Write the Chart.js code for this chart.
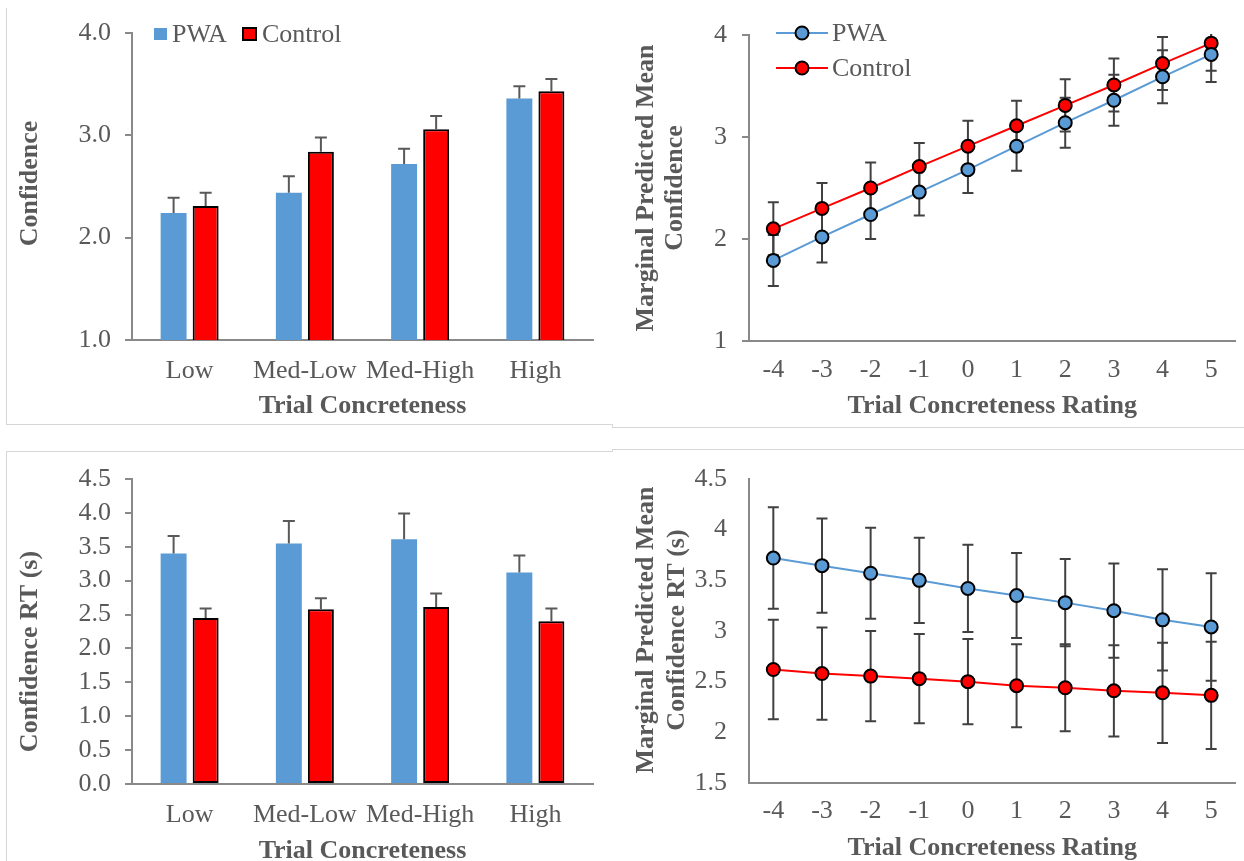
<!DOCTYPE html>
<html>
<head>
<meta charset="utf-8">
<script src="https://cdn.jsdelivr.net/npm/chart.js@4.4.1/dist/chart.umd.min.js"></script>
<style>
  html, body { margin: 0; padding: 0; background: #fff; overflow: hidden; }
  body { width: 1244px; height: 861px; position: relative; }
  canvas { position: absolute; }
  .rule { position: absolute; background: #d6d6d6; }
</style>
</head>
<body>
<!-- panel frames -->
<div class="rule" style="left:6px;top:8px;width:1px;height:417px"></div>
<div class="rule" style="left:6px;top:424px;width:606px;height:1px"></div>
<div class="rule" style="left:612px;top:424px;width:1px;height:4px"></div>
<div class="rule" style="left:612px;top:427px;width:632px;height:1px"></div>
<div class="rule" style="left:6px;top:451px;width:606px;height:1px"></div>
<div class="rule" style="left:6px;top:451px;width:1px;height:410px"></div>
<div class="rule" style="left:612px;top:449px;width:1px;height:3px"></div>
<div class="rule" style="left:612px;top:449px;width:632px;height:1px"></div>

<canvas id="confBars" width="612" height="426" style="left:0;top:0"></canvas>
<canvas id="confLines" width="632" height="428" style="left:612px;top:0"></canvas>
<canvas id="rtBars" width="612" height="440" style="left:0;top:440px"></canvas>
<canvas id="rtLines" width="632" height="440" style="left:612px;top:440px"></canvas>

<script>
// categories
const levels = ['Low', 'Med-Low', 'Med-High', 'High'];
const ratings = ['-4', '-3', '-2', '-1', '0', '1', '2', '3', '4', '5'];

// confidence by concreteness level
const confPwa = [2.24, 2.44, 2.72, 3.36];
const confPwaErr = [0.15, 0.16, 0.15, 0.12];
const confCtl = [2.31, 2.84, 3.06, 3.43];
const confCtlErr = [0.13, 0.14, 0.13, 0.12];

// confidence RT by concreteness level
const rtPwa = [3.40, 3.55, 3.61, 3.12];
const rtPwaErr = [0.26, 0.33, 0.38, 0.25];
const rtCtl = [2.45, 2.58, 2.61, 2.40];
const rtCtlErr = [0.14, 0.16, 0.20, 0.19];

// marginal predicted confidence by rating
const predConfPwa = [1.79, 2.02, 2.24, 2.46, 2.68, 2.91, 3.14, 3.36, 3.59, 3.81];
const predConfPwaErr = [0.25, 0.25, 0.24, 0.23, 0.23, 0.24, 0.245, 0.25, 0.26, 0.27];
const predConfCtl = [2.10, 2.30, 2.50, 2.71, 2.91, 3.11, 3.31, 3.51, 3.72, 3.92];
const predConfCtlErr = [0.26, 0.25, 0.25, 0.23, 0.25, 0.245, 0.255, 0.26, 0.26, 0.27];

// marginal predicted confidence RT by rating
const predRtPwa = [3.72, 3.645, 3.57, 3.50, 3.42, 3.35, 3.28, 3.20, 3.11, 3.04];
const predRtPwaErr = [0.50, 0.465, 0.45, 0.42, 0.43, 0.42, 0.43, 0.465, 0.50, 0.53];
const predRtCtl = [2.62, 2.58, 2.555, 2.53, 2.50, 2.46, 2.44, 2.41, 2.39, 2.365];
const predRtCtlErr = [0.49, 0.455, 0.445, 0.44, 0.42, 0.41, 0.43, 0.45, 0.495, 0.53];

const BLUE = '#5B9BD5';
const RED = '#FF0000';
const AXIS = '#898989';
const TEXT = '#595959';
const SERIF = '"Liberation Serif", "Times New Roman", serif';

Chart.defaults.font.family = SERIF;
Chart.defaults.font.size = 26;
Chart.defaults.color = TEXT;

// error bars, drawn from each dataset's "errors" list
function drawErrors(chart, opts) {
    const ctx = chart.ctx;
    const area = chart.chartArea;
    const y = chart.scales.y;
    const half = opts.cap / 2;
    ctx.save();
    ctx.beginPath();
    ctx.rect(area.left, area.top - 1, area.right - area.left, area.bottom - area.top + 1);
    ctx.clip();
    ctx.strokeStyle = opts.color;
    ctx.lineWidth = 2;
    chart.data.datasets.forEach((ds, i) => {
        if (!ds.errors) return;
        chart.getDatasetMeta(i).data.forEach((el, j) => {
            const v = ds.data[j];
            const e = ds.errors[j];
            const top = y.getPixelForValue(v + e);
            const bot = y.getPixelForValue(opts.plusOnly ? v : v - e);
            ctx.beginPath();
            ctx.moveTo(el.x, top);
            ctx.lineTo(el.x, bot);
            ctx.moveTo(el.x - half, top);
            ctx.lineTo(el.x + half, top);
            if (!opts.plusOnly) {
                ctx.moveTo(el.x - half, bot);
                ctx.lineTo(el.x + half, bot);
            }
            ctx.stroke();
        });
    });
    ctx.restore();
}
const errorBars = {
    id: 'errorBars',
    beforeDatasetsDraw(chart, args, opts) { if (opts.color && opts.under) drawErrors(chart, opts); },
    afterDatasetsDraw(chart, args, opts) { if (opts.color && !opts.under) drawErrors(chart, opts); }
};

// legend placed by hand, as in the original figure
const keyBox = {
    id: 'keyBox',
    afterDraw(chart, args, opts) {
        if (!opts.items) return;
        const ctx = chart.ctx;
        ctx.save();
        opts.items.forEach(it => {
            const ds = chart.data.datasets[it.index];
            if (it.kind === 'box') {
                if (ds.borderWidth) {
                    ctx.fillStyle = '#000';
                    ctx.fillRect(it.x, it.y - it.h / 2, it.w, it.h);
                    ctx.fillStyle = ds.backgroundColor;
                    ctx.fillRect(it.x + 2, it.y - it.h / 2 + 2, it.w - 4, it.h - 4);
                } else {
                    ctx.fillStyle = ds.backgroundColor;
                    ctx.fillRect(it.x, it.y - it.h / 2, it.w, it.h);
                }
            } else {
                ctx.strokeStyle = ds.borderColor;
                ctx.lineWidth = 2;
                ctx.beginPath();
                ctx.moveTo(it.x, it.y);
                ctx.lineTo(it.x + it.w, it.y);
                ctx.stroke();
                ctx.beginPath();
                ctx.arc(it.x + it.w / 2, it.y, ds.pointRadius, 0, Math.PI * 2);
                ctx.fillStyle = ds.pointBackgroundColor;
                ctx.fill();
                ctx.strokeStyle = '#000';
                ctx.stroke();
            }
            ctx.fillStyle = TEXT;
            ctx.font = '26px ' + SERIF;
            ctx.textBaseline = 'middle';
            ctx.fillText(ds.label, it.tx, it.y + 1);
        });
        ctx.restore();
    }
};

// rotated y title, free to sit off the axis centre
const sideTitle = {
    id: 'sideTitle',
    afterDraw(chart, args, opts) {
        if (!opts.lines) return;
        const ctx = chart.ctx;
        const a = chart.chartArea;
        ctx.save();
        ctx.translate(opts.x, (a.top + a.bottom) / 2 + (opts.shift || 0));
        ctx.rotate(-Math.PI / 2);
        ctx.font = 'bold 26px ' + SERIF;
        ctx.fillStyle = TEXT;
        ctx.textAlign = 'center';
        ctx.textBaseline = 'middle';
        opts.lines.forEach((t, k) => ctx.fillText(t, 0, k * (opts.gap || 0)));
        ctx.restore();
    }
};
Chart.register(errorBars, keyBox, sideTitle);

function xAxis(title, height, labelPad, titlePad) {
    return {
        type: 'category',
        offset: true,
        grid: { display: false, drawTicks: false },
        border: { display: true, color: AXIS, width: 2 },
        ticks: { padding: labelPad, color: TEXT, autoSkip: false, maxRotation: 0 },
        title: { display: true, text: title, color: TEXT, font: { size: 26, weight: 'bold' }, padding: { top: 0, bottom: titlePad } },
        afterFit: s => { s.height = height; }
    };
}
function yAxis(min, max, step, width, pad, marks, fmt) {
    return {
        min: min,
        max: max,
        ticks: { stepSize: step, padding: pad, color: TEXT, autoSkip: false, callback: fmt },
        grid: { drawOnChartArea: false, drawTicks: marks, tickLength: 7, color: AXIS, lineWidth: 2 },
        border: { display: true, color: AXIS, width: 2 },
        afterFit: s => { s.width = width; }
    };
}
const oneDec = v => v.toFixed(1);
const plain = v => String(v);

function barSets(pwa, pwaErr, ctl, ctlErr) {
    return [
        { label: 'PWA', data: pwa, errors: pwaErr, backgroundColor: BLUE, borderWidth: 0,
          categoryPercentage: 0.556, barPercentage: 0.81 },
        { label: 'Control', data: ctl, errors: ctlErr, backgroundColor: RED, borderColor: '#000',
          borderWidth: 2, borderSkipped: false, categoryPercentage: 0.556, barPercentage: 0.81 }
    ];
}
function lineSets(pwa, pwaErr, ctl, ctlErr) {
    const common = { borderWidth: 2, pointRadius: 6.5, pointBorderColor: '#000', pointBorderWidth: 2, tension: 0, fill: false };
    return [
        Object.assign({ label: 'PWA', data: pwa, errors: pwaErr, borderColor: BLUE, backgroundColor: BLUE, pointBackgroundColor: BLUE }, common),
        Object.assign({ label: 'Control', data: ctl, errors: ctlErr, borderColor: RED, backgroundColor: RED, pointBackgroundColor: RED }, common)
    ];
}

// top left: confidence bars
new Chart(document.getElementById('confBars'), {
    type: 'bar',
    data: { labels: levels, datasets: barSets(confPwa, confPwaErr, confCtl, confCtlErr) },
    options: {
        responsive: false, animation: false, events: [],
        layout: { padding: { left: 0, top: 33, right: 19, bottom: 0 } },
        scales: {
            x: xAxis('Trial Concreteness', 86, 16, 4),
            y: yAxis(1, 4, 1, 132, 14, true, oneDec)
        },
        plugins: {
            legend: { display: false }, tooltip: { enabled: false },
            errorBars: { color: TEXT, cap: 12, plusOnly: true },
            keyBox: { items: [
                { kind: 'box', index: 0, x: 154, y: 34, w: 13, h: 12, tx: 172 },
                { kind: 'box', index: 1, x: 242, y: 34, w: 15, h: 14, tx: 262 }
            ] },
            sideTitle: { lines: ['Confidence'], x: 30, shift: -3 }
        }
    }
});

// top right: predicted confidence lines
new Chart(document.getElementById('confLines'), {
    type: 'line',
    data: { labels: ratings, datasets: lineSets(predConfPwa, predConfPwaErr, predConfCtl, predConfCtlErr) },
    options: {
        responsive: false, animation: false, events: [],
        layout: { padding: { left: 0, top: 35, right: 5, bottom: 0 } },
        scales: {
            x: xAxis('Trial Concreteness Rating', 87, 14, 6),
            y: yAxis(1, 4, 1, 137, 15, true, plain)
        },
        plugins: {
            legend: { display: false }, tooltip: { enabled: false },
            errorBars: { color: '#404040', cap: 11, under: true },
            keyBox: { items: [
                { kind: 'line', index: 0, x: 164, y: 33, w: 52, tx: 220 },
                { kind: 'line', index: 1, x: 164, y: 68, w: 52, tx: 220 }
            ] },
            sideTitle: { lines: ['Marginal Predicted Mean', 'Confidence'], x: 34, gap: 29 }
        }
    }
});

// bottom left: confidence RT bars
new Chart(document.getElementById('rtBars'), {
    type: 'bar',
    data: { labels: levels, datasets: barSets(rtPwa, rtPwaErr, rtCtl, rtCtlErr) },
    options: {
        responsive: false, animation: false, events: [],
        layout: { padding: { left: 0, top: 39, right: 19, bottom: 0 } },
        scales: {
            x: xAxis('Trial Concreteness', 96, 16, 13),
            y: yAxis(0, 4.5, 0.5, 132, 14, true, oneDec)
        },
        plugins: {
            legend: { display: false }, tooltip: { enabled: false },
            errorBars: { color: TEXT, cap: 12, plusOnly: true },
            sideTitle: { lines: ['Confidence RT (s)'], x: 30, shift: 20 }
        }
    }
});

// bottom right: predicted confidence RT lines
new Chart(document.getElementById('rtLines'), {
    type: 'line',
    data: { labels: ratings, datasets: lineSets(predRtPwa, predRtPwaErr, predRtCtl, predRtCtlErr) },
    options: {
        responsive: false, animation: false, events: [],
        layout: { padding: { left: 0, top: 39, right: 5, bottom: 0 } },
        scales: {
            x: xAxis('Trial Concreteness Rating', 97, 13, 16),
            y: yAxis(1.5, 4.5, 0.5, 137, 22, false, plain)
        },
        plugins: {
            legend: { display: false }, tooltip: { enabled: false },
            errorBars: { color: '#404040', cap: 11, under: true },
            sideTitle: { lines: ['Marginal Predicted Mean', 'Confidence RT (s)'], x: 34, gap: 31, shift: -1 }
        }
    }
});
</script>
</body>
</html>
